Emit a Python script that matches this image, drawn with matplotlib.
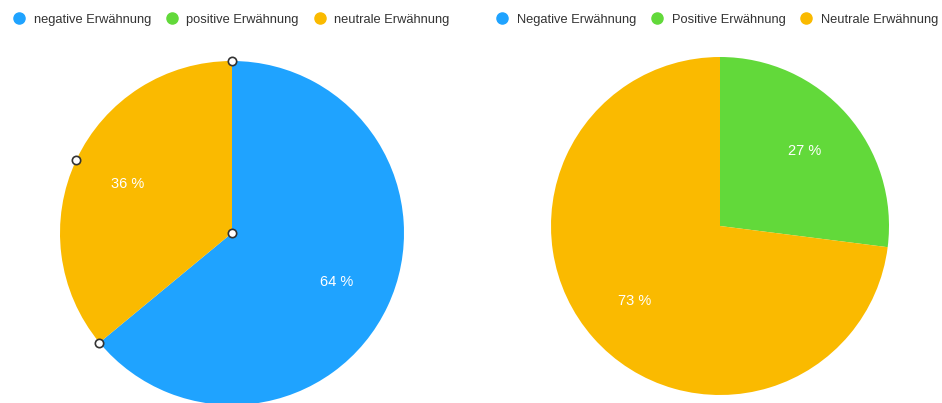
import numpy as np
import matplotlib.pyplot as plt
from matplotlib.lines import Line2D

plt.rcParams['font.family'] = ['Liberation Sans', 'DejaVu Sans']

# Anteile der Erwähnungen in Prozent
labels_left = ['negative Erwähnung', 'positive Erwähnung', 'neutrale Erwähnung']
labels_right = ['Negative Erwähnung', 'Positive Erwähnung', 'Neutrale Erwähnung']
values_left = [64, 0, 36]
values_right = [0, 27, 73]
colors = ['#1FA3FF', '#62D93A', '#FABA00']

W, H = 942, 403
fig = plt.figure(figsize=(W / 100, H / 100), dpi=100)
ax = fig.add_axes([0, 0, 1, 1])


def pct(p):
    return f'{p:.0f} %' if p > 0.5 else ''


def draw_pie(values, center, radius):
    _, texts, autotexts = ax.pie(values, colors=colors, startangle=90, counterclock=False,
                                 center=center, radius=radius, autopct=pct, pctdistance=0.67,
                                 wedgeprops=dict(linewidth=0), frame=True)
    for t in autotexts:
        t.set_color('white')
        t.set_fontsize(10.5)


draw_pie(values_left, (232, H - 233), 172)
draw_pie(values_right, (720, H - 226), 169)
ax.set_xlim(0, W)
ax.set_ylim(0, H)
ax.set_aspect('equal')
ax.axis('off')

# Markierungspunkte am linken Diagramm (Mitte, Start, Grenze, Bogenmitte)
cx, cy, r = 232, H - 233, 172
a_start = 90
a_end = 90 - 360 * values_left[0] / 100
a_mid = a_end - 360 * values_left[2] / 200
hx = [cx, cx + r * np.cos(np.radians(a_start)), cx + r * np.cos(np.radians(a_end)),
      cx + r * np.cos(np.radians(a_mid))]
hy = [cy, cy + r * np.sin(np.radians(a_start)), cy + r * np.sin(np.radians(a_end)),
      cy + r * np.sin(np.radians(a_mid))]
ax.plot(hx, hy, 'o', ms=6, mfc='white', mec='#333333', mew=1.2, zorder=10, clip_on=False)


def make_legend(names, x):
    handles = [Line2D([], [], marker='o', ls='', ms=8, color=c) for c in colors]
    leg = fig.legend(handles, names, loc='center', bbox_to_anchor=(x / W, 1 - 20 / H),
                     ncol=3, frameon=False, fontsize=9.3, handletextpad=0.65,
                     columnspacing=1.1, handlelength=1.0, labelcolor='#333333',
                     borderpad=0, borderaxespad=0)
    return leg


make_legend(labels_left, 231)
make_legend(labels_right, 717)

fig.savefig('out.png', dpi=100)
